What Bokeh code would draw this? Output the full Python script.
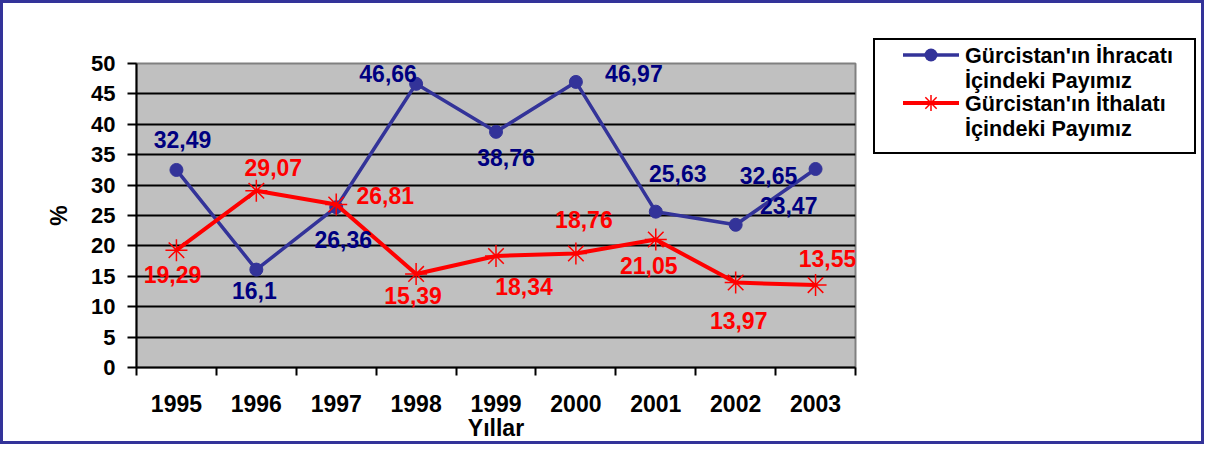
from bokeh.plotting import figure
from bokeh.layouts import row
from bokeh.models import Range1d, FixedTicker, ColumnDataSource, Div
from bokeh.embed import file_html
from bokeh.resources import INLINE
from bokeh.core.properties import value

years = [1995, 1996, 1997, 1998, 1999, 2000, 2001, 2002, 2003]
ihracat = [32.49, 16.1, 26.36, 46.66, 38.76, 46.97, 25.63, 23.47, 32.65]
ithalat = [19.29, 29.07, 26.81, 15.39, 18.34, 18.76, 21.05, 13.97, 13.55]
y_ticks = [0, 5, 10, 15, 20, 25, 30, 35, 40, 45, 50]
name_ihr = ["Gürcistan'ın İhracatı", "İçindeki Payımız"]
name_ith = ["Gürcistan'ın İthalatı", "İçindeki Payımız"]
x_title = "Yıllar"
y_title = "%"

# label placement offsets (screen px), style only
ihr_dx = [6, -2, 7, -28, 10, 58, 22, 53, -47]
ihr_dy = [-30, 21, 32, -10, 26, -8, -38, -19, 7]
ith_dx = [-4, 17, 49, -3, 28, 8, -7, 3, 12]
ith_dy = [24, -23, -9, 22, 31, -34, 26, 38, -27]

FONT = "Liberation Sans"
BLUE = "#333399"
NAVY = "#000080"
RED = "#FF0000"
FRAME_BLUE = "#333399"

xs = [i + 0.5 for i in range(len(years))]

W1, W2, H = 860, 344, 444

p = figure(width=W1, height=H, output_backend="svg", toolbar_location=None,
           x_range=Range1d(0, len(years)), y_range=Range1d(y_ticks[0], y_ticks[-1]),
           min_border_left=133, min_border_right=8, min_border_top=60, min_border_bottom=80)
p.styles = {"border": f"3px solid {FRAME_BLUE}", "border-right": "none",
            "box-sizing": "border-box"}
p.margin = 0
p.background_fill_color = "#C0C0C0"
p.border_fill_color = "white"
p.outline_line_color = "#808080"
p.outline_line_width = 2

xa = p.xaxis[0]
xa.ticker = FixedTicker(ticks=xs, minor_ticks=list(range(len(years) + 1)))
xa.major_label_overrides = {x: str(y) for x, y in zip(xs, years)}
xa.major_tick_out = 0
xa.major_tick_in = 0
xa.minor_tick_out = 8
xa.minor_tick_in = 0
xa.minor_tick_line_color = "black"
xa.minor_tick_line_width = 2
xa.axis_line_color = "black"
xa.axis_line_width = 2
xa.major_label_text_font = FONT
xa.major_label_text_font_style = "bold"
xa.major_label_text_font_size = "23px"
xa.major_label_text_color = "black"
xa.major_label_standoff = 19
xa.axis_label = x_title
xa.axis_label_text_font = FONT
xa.axis_label_text_font_style = "bold"
xa.axis_label_text_font_size = "23px"
xa.axis_label_text_color = "black"
xa.axis_label_standoff = 0

ya = p.yaxis[0]
ya.ticker = FixedTicker(ticks=y_ticks, minor_ticks=[])
ya.major_tick_out = 9
ya.major_tick_in = 0
ya.major_tick_line_color = "black"
ya.major_tick_line_width = 2
ya.axis_line_color = "black"
ya.axis_line_width = 2
ya.major_label_text_font = FONT
ya.major_label_text_font_style = "bold"
ya.major_label_text_font_size = "22px"
ya.major_label_text_color = "black"
ya.major_label_standoff = 12
ya.axis_label = y_title
ya.axis_label_text_font = FONT
ya.axis_label_text_font_style = "bold"
ya.axis_label_text_font_size = "23px"
ya.axis_label_text_color = "black"
ya.axis_label_standoff = 16

p.xgrid.grid_line_color = None
p.ygrid.ticker = FixedTicker(ticks=y_ticks[1:-1])
p.ygrid.grid_line_color = "black"
p.ygrid.grid_line_width = 2

p.line(xs, ihracat, line_color=BLUE, line_width=3.5)
p.scatter(xs, ihracat, marker="circle", size=13, fill_color=BLUE, line_color=BLUE)
p.line(xs, ithalat, line_color=RED, line_width=4)
p.scatter(xs, ithalat, marker="asterisk", size=22, line_color=RED, line_width=1.5)

def fmt(v):
    return f"{v:g}".replace(".", ",")

src1 = ColumnDataSource(dict(x=xs, y=ihracat, t=[fmt(v) for v in ihracat], dx=ihr_dx, dy=ihr_dy))
src2 = ColumnDataSource(dict(x=xs, y=ithalat, t=[fmt(v) for v in ithalat], dx=ith_dx, dy=ith_dy))
for src, col in ((src1, NAVY), (src2, RED)):
    p.text(x="x", y="y", text="t", x_offset="dx", y_offset="dy", source=src,
           text_font=value(FONT), text_font_style="bold", text_font_size="23px",
           text_color=col, text_align="center", text_baseline="middle")

# legend (drawn as an SVG block beside the plot)
def txt(y, s):
    return (f'<text x="105" y="{y}" font-family="{FONT}" font-weight="bold" '
            f'font-size="21.6px" fill="black" dominant-baseline="central">{s}</text>')

def asterisk(cx, cy, r):
    d = r * 0.7071
    return (f'<path d="M{cx-r},{cy} L{cx+r},{cy} M{cx},{cy-r} L{cx},{cy+r} '
            f'M{cx-d},{cy-d} L{cx+d},{cy+d} M{cx-d},{cy+d} L{cx+d},{cy-d}" '
            f'stroke="{RED}" stroke-width="1.5" fill="none"/>')

svg = (
    f'<svg xmlns="http://www.w3.org/2000/svg" width="{W2 - 3}" height="{H - 6}" '
    f'style="display:block;position:absolute;left:0;top:0">'
    f'<rect x="14" y="36" width="321" height="114" fill="white" stroke="black" stroke-width="2"/>'
    f'<line x1="43" y1="52" x2="99" y2="52" stroke="{BLUE}" stroke-width="3.5"/>'
    f'<circle cx="71" cy="52" r="6.5" fill="{BLUE}"/>'
    f'<line x1="43" y1="100" x2="99" y2="100" stroke="{RED}" stroke-width="4"/>'
    + asterisk(71, 100, 8)
    + txt(52, name_ihr[0]) + txt(77, name_ihr[1])
    + txt(100, name_ith[0]) + txt(125, name_ith[1])
    + '</svg>'
)

leg = Div(text=svg, width=W2, height=H, margin=0,
          styles={"border": f"3px solid {FRAME_BLUE}", "border-left": "none",
                  "box-sizing": "border-box", "background-color": "white",
                  "position": "relative", "overflow": "hidden"})

layout = row(p, leg)

open("out.html", "w").write(file_html(layout, INLINE))
